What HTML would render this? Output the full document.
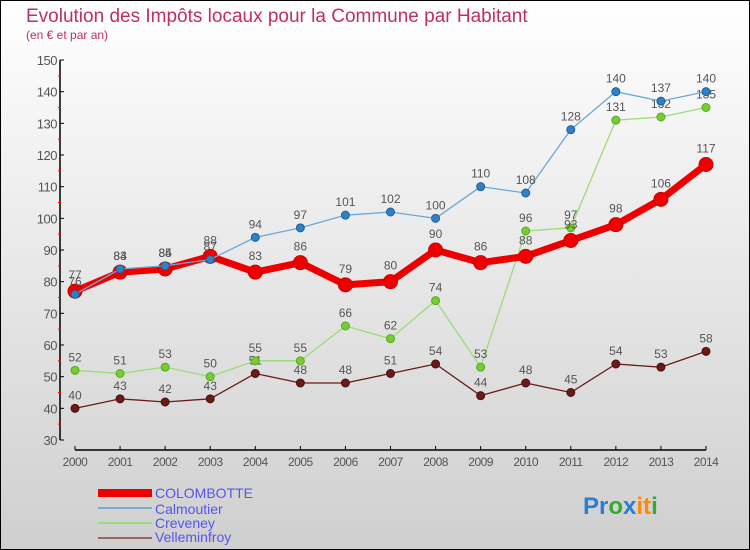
<!DOCTYPE html>
<html><head><meta charset="utf-8"><style>
html,body{margin:0;padding:0}
body{width:750px;height:550px;overflow:hidden;font-family:"Liberation Sans",sans-serif}
</style></head><body>
<svg id="chart" width="750" height="550" xmlns="http://www.w3.org/2000/svg" style="display:block">
<defs>
<linearGradient id="bg" x1="0" y1="0" x2="0" y2="1">
<stop offset="0" stop-color="#ffffff"/><stop offset="1" stop-color="#cfcfcf"/>
</linearGradient>
</defs>
<rect x="0.5" y="0.5" width="749" height="549" fill="url(#bg)" stroke="#000" stroke-width="1"/>
<text x="26" y="22" font-size="19" fill="#c0305a">Evolution des Impôts locaux pour la Commune par Habitant</text>
<text x="26" y="39" font-size="12" fill="#c0305a">(en € et par an)</text>
<g id="axes"></g>
<g id="series"></g>
<g id="legend">
<rect x="98" y="489" width="54" height="8" fill="#ee0000"/>
<text x="155" y="498" font-size="14" fill="#5555ee">COLOMBOTTE</text>
<rect x="98" y="507" width="54" height="2" fill="#7aaad0"/>
<text x="155" y="514" font-size="14" fill="#5555ee">Calmoutier</text>
<rect x="98" y="522" width="54" height="2" fill="#99dd77"/>
<text x="155" y="528" font-size="14" fill="#5555ee">Creveney</text>
<rect x="98" y="537" width="54" height="2" fill="#996666"/>
<text x="155" y="542" font-size="14" fill="#5555ee">Velleminfroy</text>
</g>
<text x="583" y="514" font-size="24" font-weight="bold"><tspan fill="#2a7fd4">Pr</tspan><tspan fill="#33aa33">o</tspan><tspan fill="#2a7fd4">x</tspan><tspan fill="#ff8800">it</tspan><tspan fill="#33aa33">i</tspan></text>
</svg>
<script>
const years=[2000,2001,2002,2003,2004,2005,2006,2007,2008,2009,2010,2011,2012,2013,2014];
const colombotte=[77,83,84,88,83,86,79,80,90,86,88,93,98,106,117];
const calmoutier=[76,84,85,87,94,97,101,102,100,110,108,128,140,137,140];
const creveney=[52,51,53,50,55,55,66,62,74,53,96,97,131,132,135];
const velleminfroy=[40,43,42,43,51,48,48,51,54,44,48,45,54,53,58];
const yTicks=[30,40,50,60,70,80,90,100,110,120,130,140,150];
const NS="http://www.w3.org/2000/svg";
function X(i){return 75+i*(706-75)/(years.length-1);}
function Y(v){return 440-(v-30)*(380/120);}
function mk(tag,attrs,parent){const e=document.createElementNS(NS,tag);for(const k in attrs)e.setAttribute(k,attrs[k]);parent.appendChild(e);return e;}
const axes=document.getElementById('axes');
const ya=mk('line',{x1:60,y1:Y(150),x2:60,y2:Y(30),stroke:'#000','stroke-width':1.5},axes);


yTicks.forEach(v=>{
  const t=mk('line',{x1:60,y1:Y(v),x2:64,y2:Y(v),stroke:'#000','stroke-width':1},axes);
  
  
  const l=mk('text',{x:57,y:Y(v)+5,'font-size':13,fill:'#555','text-anchor':'end','letter-spacing':'-0.5'},axes);
  l.textContent=v;
  
  
  if(v<150){const m=mk('line',{x1:58,y1:Y(v+5),x2:61,y2:Y(v+5),stroke:'#ff0000','stroke-width':1},axes);
  
  }
});
const xa=mk('line',{x1:X(0),y1:450,x2:X(years.length-1),y2:450,stroke:'#000','stroke-width':1.5},axes);


years.forEach((yr,i)=>{
  const t=mk('line',{x1:X(i),y1:446,x2:X(i),y2:450,stroke:'#000','stroke-width':1},axes);
  
  
  const l=mk('text',{x:X(i),y:466,'font-size':12,fill:'#555','text-anchor':'middle','letter-spacing':'-0.5'},axes);
  l.textContent=yr;
  
  
});
const sg=document.getElementById('series');
function drawSeries(name,data,color,lw,r,dot,stroke){
  const g=mk('g',{},sg);
  
  
  const pts=data.map((v,i)=>X(i)+','+Y(v)).join(' ');
  const pl=mk('polyline',{points:pts,fill:'none',stroke:color,'stroke-width':lw,'stroke-linejoin':'round'},g);
  
  
  data.forEach((v,i)=>{
    const c=mk('circle',{cx:X(i),cy:Y(v),r:r,fill:dot,stroke:stroke,'stroke-width':1},g);
    
    
    const t=mk('text',{x:X(i),y:Y(v)-r-5,'font-size':12,fill:'#555','text-anchor':'middle'},g);
    t.textContent=v;
    
    
  });
}
drawSeries('velleminfroy',velleminfroy,'#6b1a1a',1.3,4,'#6b1a1a','#4a0f0f');
drawSeries('creveney',creveney,'#99dd77',1.3,4,'#77cc33','#55aa22');
drawSeries('colombotte',colombotte,'#ee0000',7,7,'#ee0000','#cc0000');
drawSeries('calmoutier',calmoutier,'#6aa8d8',1.3,4,'#2f80c4','#1f5f99');
</script>
</body></html>
